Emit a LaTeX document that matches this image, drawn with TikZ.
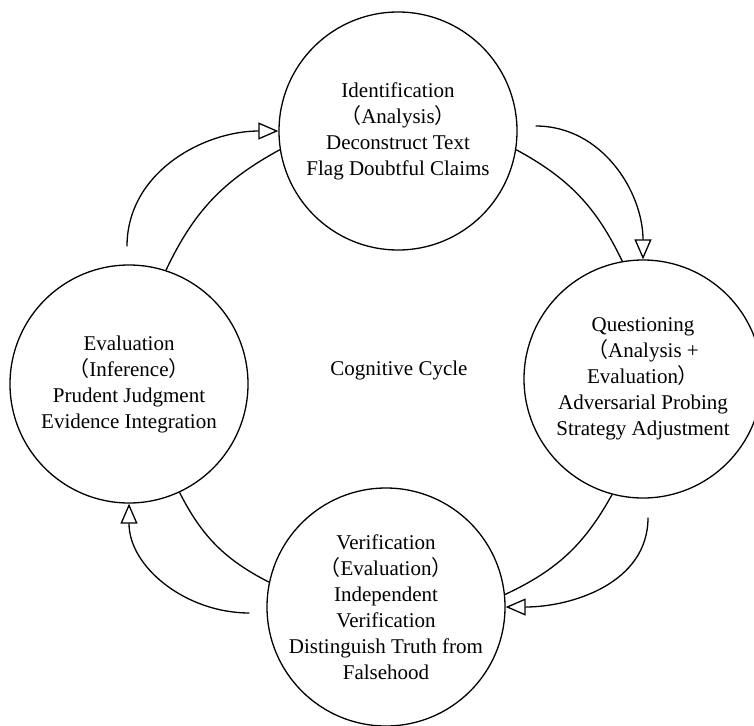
\documentclass[tikz,border=0pt]{standalone}
\usepackage{fontspec}
\setmainfont{Liberation Serif}
\newfontfamily\cjkfont{Noto Sans CJK SC}
\usetikzlibrary{arrows.meta,calc}
\newcommand{\zlp}{{\cjkfont （}}
\newcommand{\zrp}{{\cjkfont ）}}

\begin{document}
\begin{tikzpicture}[x=1pt,y=-1pt,
    stage/.style={circle,draw,line width=1.3pt,minimum size=238pt,inner sep=-4pt,
        align=center,font=\fontsize{21}{26}\selectfont},
    link/.style={line width=1.3pt},
    turn/.style={line width=1.3pt,-{Triangle[open,length=20pt,width=17pt]}}]
    \useasboundingbox (0,0) rectangle (754,725);
    \clip (0,0) rectangle (754,725);

    % Stages of the cycle
    \node[stage] (ident) at (398,131) {Identification\\\zlp Analysis\zrp\\Deconstruct Text\\Flag Doubtful Claims};
    \node[stage] (quest) at (643,379) {Questioning\\\zlp Analysis +\\Evaluation\zrp\\Adversarial Probing\\Strategy Adjustment};
    \node[stage] (verif) at (386,607) {Verification\\\zlp Evaluation\zrp\\Independent\\Verification\\Distinguish Truth from\\Falsehood};
    \node[stage] (evalu) at (129,384) {Evaluation\\\zlp Inference\zrp\\Prudent Judgment\\Evidence Integration};

    % Centre label
    \node[font=\fontsize{21}{26}\selectfont] (cycle) at (399,370) {Cognitive Cycle};

    % Inner cycle
    \draw[link] (evalu.72) to[bend left=18] (ident.189);
    \draw[link] (ident.-9) to[bend left=18] (quest.100);
    \draw[link] (quest.255) to[bend left=18] (verif.6);
    \draw[link] (verif.168) to[bend left=18] (evalu.-65);

    % Outer arrows
    \coordinate (s1) at ($(evalu.north)+(-2,-18)$);
    \coordinate (s2) at ($(ident.east)+(18,-5)$);
    \coordinate (s3) at ($(quest.south)+(5,19)$);
    \coordinate (s4) at ($(verif.west)+(-17,6)$);
    \draw[turn] (s1) to[out=90,in=180] (ident.west);
    \draw[turn] (s2) to[out=0,in=90] (quest.north);
    \draw[turn] (s3) to[out=-90,in=0] (verif.east);
    \draw[turn] (s4) to[out=180,in=-90] (evalu.south);
\end{tikzpicture}
\end{document}
